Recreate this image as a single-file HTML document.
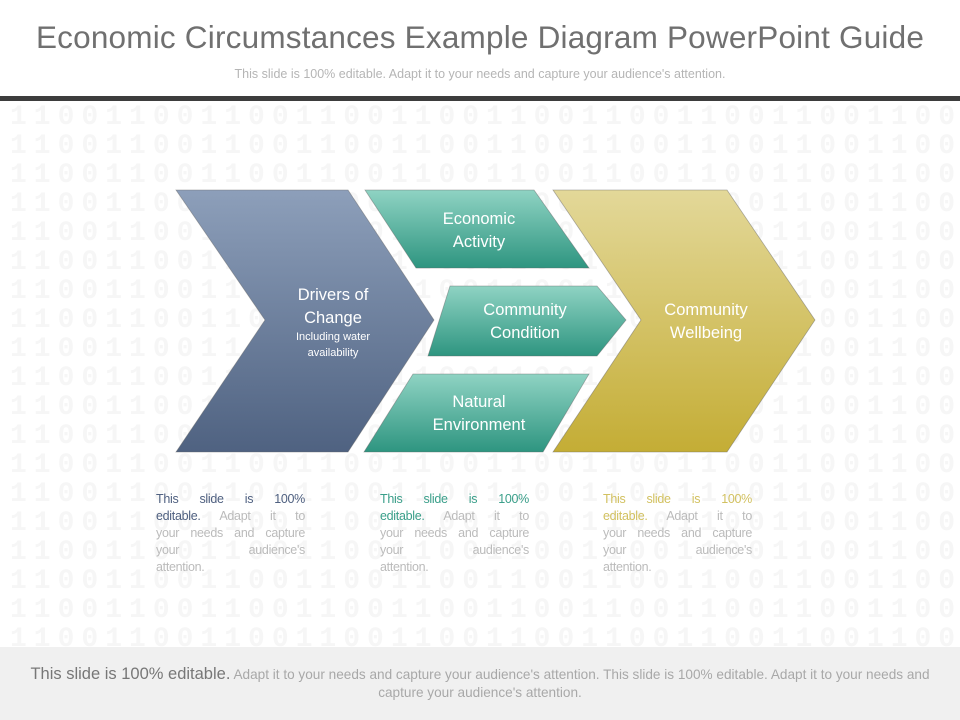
<!DOCTYPE html>
<html><head><meta charset="utf-8"><style>
html,body{margin:0;padding:0;width:960px;height:720px;overflow:hidden;background:#fff;font-family:"Liberation Sans",sans-serif}
.t{position:absolute;left:0;width:960px;text-align:center}
.col{position:absolute;width:149px;font-size:12.5px;line-height:17px;color:#bbb}
.col div{text-align:justify;text-align-last:justify;white-space:nowrap;letter-spacing:-0.3px}
.col div.l{text-align-last:left}
</style></head><body>
<div class="t" style="top:19px;font-size:31.5px;color:#707070;letter-spacing:0.2px">Economic Circumstances Example Diagram PowerPoint Guide</div>
<div class="t" style="top:67px;font-size:12.5px;color:#b5b5b5">This slide is 100% editable. Adapt it to your needs and capture your audience's attention.</div>
<div style="position:absolute;left:0;top:96px;width:960px;height:5px;background:#3d3d3d"></div>
<svg width="960" height="720" style="position:absolute;left:0;top:0">
<defs>
<linearGradient id="gb" x1="0" y1="0" x2="0" y2="1"><stop offset="0" stop-color="#8d9fba"/><stop offset="1" stop-color="#4f6281"/></linearGradient>
<linearGradient id="gg" x1="0" y1="0" x2="0" y2="1"><stop offset="0" stop-color="#8fd3c3"/><stop offset="1" stop-color="#2e9580"/></linearGradient>
<linearGradient id="gy" x1="0" y1="0" x2="0" y2="1"><stop offset="0" stop-color="#e3d899"/><stop offset="1" stop-color="#c4ad35"/></linearGradient>
</defs>
<g font-family="Liberation Mono" font-weight="bold" font-size="28" fill="#f6f6f6" letter-spacing="7">
<text x="10" y="124">1100110011001100110011001100110011001100</text>
<text x="10" y="153">1100110011001100110011001100110011001100</text>
<text x="10" y="182">1100110011001100110011001100110011001100</text>
<text x="10" y="211">1100110011001100110011001100110011001100</text>
<text x="10" y="240">1100110011001100110011001100110011001100</text>
<text x="10" y="269">1100110011001100110011001100110011001100</text>
<text x="10" y="298">1100110011001100110011001100110011001100</text>
<text x="10" y="327">1100110011001100110011001100110011001100</text>
<text x="10" y="356">1100110011001100110011001100110011001100</text>
<text x="10" y="385">1100110011001100110011001100110011001100</text>
<text x="10" y="414">1100110011001100110011001100110011001100</text>
<text x="10" y="443">1100110011001100110011001100110011001100</text>
<text x="10" y="472">1100110011001100110011001100110011001100</text>
<text x="10" y="501">1100110011001100110011001100110011001100</text>
<text x="10" y="530">1100110011001100110011001100110011001100</text>
<text x="10" y="559">1100110011001100110011001100110011001100</text>
<text x="10" y="588">1100110011001100110011001100110011001100</text>
<text x="10" y="617">1100110011001100110011001100110011001100</text>
<text x="10" y="646">1100110011001100110011001100110011001100</text>
</g>
<g stroke="#666" stroke-width="0.8" stroke-opacity="0.5">
<polygon points="176,190 348,190 434,320 348,452 176,452 265,320" fill="url(#gb)"/>
<polygon points="365,190 534,190 589,268 416,268" fill="url(#gg)"/>
<polygon points="450,286 597,286 626,320 597,356 428,356" fill="url(#gg)"/>
<polygon points="413,374 589,374 543,452 364,452" fill="url(#gg)"/>
<polygon points="553,190 727,190 815,320 727,452 553,452 641,320" fill="url(#gy)"/>
</g>
<g fill="#fff" text-anchor="middle" font-family="Liberation Sans">
<text x="333" y="300" font-size="16.5">Drivers of</text>
<text x="333" y="323" font-size="16.5">Change</text>
<text x="333" y="340" font-size="11">Including water</text>
<text x="333" y="356" font-size="11">availability</text>
<text x="479" y="224" font-size="16.5">Economic</text>
<text x="479" y="247" font-size="16.5">Activity</text>
<text x="525" y="315" font-size="16.5">Community</text>
<text x="525" y="338" font-size="16.5">Condition</text>
<text x="479" y="407" font-size="16.5">Natural</text>
<text x="479" y="430" font-size="16.5">Environment</text>
<text x="706" y="315" font-size="16.5">Community</text>
<text x="706" y="338" font-size="16.5">Wellbeing</text>
</g>
</svg>
<div class="col" style="left:156px;top:491px"><div style="color:#4f6080">This slide is 100%</div><div><span style="color:#4f6080">editable.</span> Adapt it to</div><div>your needs and capture</div><div>your audience's</div><div class="l">attention.</div></div>
<div class="col" style="left:380px;top:491px"><div style="color:#3a9f8a">This slide is 100%</div><div><span style="color:#3a9f8a">editable.</span> Adapt it to</div><div>your needs and capture</div><div>your audience's</div><div class="l">attention.</div></div>
<div class="col" style="left:603px;top:491px"><div style="color:#d2c160">This slide is 100%</div><div><span style="color:#d2c160">editable.</span> Adapt it to</div><div>your needs and capture</div><div>your audience's</div><div class="l">attention.</div></div>
<div style="position:absolute;left:0;top:647px;width:960px;height:73px;background:#f0f0f0"></div>
<div class="t" style="top:665px;font-size:13.6px;line-height:18px;color:#a8a8a8;white-space:nowrap"><span style="font-size:16.5px;color:#777">This slide is 100% editable.</span> Adapt it to your needs and capture your audience's attention. This slide is 100% editable. Adapt it to your needs and<br>capture your audience's attention.</div>
</body></html>
